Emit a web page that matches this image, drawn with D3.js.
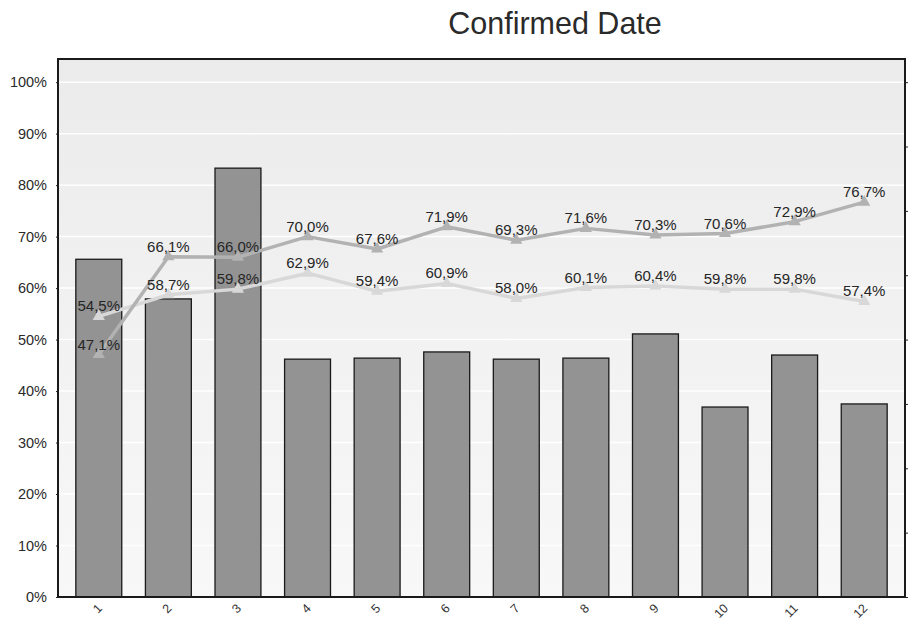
<!DOCTYPE html>
<html lang="en">
<head>
<meta charset="utf-8">
<script src="https://d3js.org/d3.v7.min.js"></script>
<style>
  * { margin: 0; padding: 0; }
  body { background: #fff; width: 911px; height: 622px; overflow: hidden; }
  svg { display: block; font-family: Arial, "Liberation Sans", sans-serif; }
</style>
</head>
<body>
<script>
// data
const months = ['1','2','3','4','5','6','7','8','9','10','11','12'];
const barValues = [65.6, 57.9, 83.3, 46.2, 46.4, 47.6, 46.2, 46.4, 51.1, 36.9, 47.0, 37.5];
const upperLine = [47.1, 66.1, 66.0, 70.0, 67.6, 71.9, 69.3, 71.6, 70.3, 70.6, 72.9, 76.7];
const lowerLine = [54.5, 58.7, 59.8, 62.9, 59.4, 60.9, 58.0, 60.1, 60.4, 59.8, 59.8, 57.4];
const yTicks = [0, 10, 20, 30, 40, 50, 60, 70, 80, 90, 100];
const title = 'Confirmed Date';

const W = 911, H = 622;
const box = {left: 58, right: 905, top: 59, bottom: 597};

const svg = d3.select('body').append('svg').attr('width', W).attr('height', H);

const x = d3.scaleBand().domain(months).range([64, 899]).paddingInner(0.34).paddingOuter(0.17);
const y = d3.scaleLinear().domain([0, 104.5]).range([box.bottom, box.top]);
const yRight = d3.scaleLinear().domain([0, 8]).range([y(0), y(100)]);

const loc = d3.formatLocale({decimal: ',', thousands: '.', grouping: [3], currency: ['', '']});
const fmt = v => loc.format('.1f')(v) + '%';

// plot background gradient
const defs = svg.append('defs');
const grad = defs.append('linearGradient').attr('id', 'bg').attr('x1', 0).attr('y1', 0).attr('x2', 0).attr('y2', 1);
grad.append('stop').attr('offset', '0%').attr('stop-color', '#ebebeb');
grad.append('stop').attr('offset', '100%').attr('stop-color', '#f8f8f8');

svg.append('rect')
  .attr('x', box.left).attr('y', box.top)
  .attr('width', box.right - box.left).attr('height', box.bottom - box.top)
  .attr('fill', 'url(#bg)');

// gridlines
svg.append('g').selectAll('line').data(yTicks.slice(1)).join('line')
  .attr('x1', box.left).attr('x2', box.right)
  .attr('y1', d => y(d)).attr('y2', d => y(d))
  .attr('stroke', '#fff').attr('stroke-width', 1.5);

// bars
svg.append('g').selectAll('rect').data(barValues).join('rect')
  .attr('x', (d, i) => x(months[i]))
  .attr('y', d => y(d))
  .attr('width', x.bandwidth())
  .attr('height', d => y(0) - y(d))
  .attr('fill', '#939393')
  .attr('stroke', '#1a1a1a').attr('stroke-width', 1.3);

// lines
const cx = i => x(months[i]) + x.bandwidth() / 2;
const line = d3.line().x((d, i) => cx(i)).y(d => y(d));
const tri = d3.symbol().type(d3.symbolTriangle).size(65);

const series = [
  {vals: lowerLine, color: '#d8d8d8'},
  {vals: upperLine, color: '#b2b2b2'}
];
series.forEach(s => {
  svg.append('path').datum(s.vals)
    .attr('d', line)
    .attr('fill', 'none')
    .attr('stroke', s.color).attr('stroke-width', 3.5)
    .attr('stroke-linejoin', 'round');
  svg.append('g').selectAll('path').data(s.vals).join('path')
    .attr('d', tri)
    .attr('transform', (d, i) => `translate(${cx(i)},${y(d)})`)
    .attr('fill', s.color);
});
series.forEach(s => {
  svg.append('g').selectAll('text').data(s.vals).join('text')
    .attr('x', (d, i) => cx(i))
    .attr('y', d => y(d) - 5)
    .attr('text-anchor', 'middle')
    .attr('font-size', 15)
    .attr('fill', '#262626')
    .text(d => fmt(d));
});

// frame
svg.append('rect')
  .attr('x', box.left).attr('y', box.top)
  .attr('width', box.right - box.left).attr('height', box.bottom - box.top)
  .attr('fill', 'none').attr('stroke', '#1a1a1a').attr('stroke-width', 2);

// left axis
const yAxis = svg.append('g')
  .attr('transform', `translate(${box.left},0)`)
  .call(d3.axisLeft(y).tickValues(yTicks).tickSize(2).tickPadding(9).tickFormat(d => d + '%'));
yAxis.select('.domain').remove();
yAxis.selectAll('text').attr('font-size', 14.5).attr('fill', '#2a2a2a');
yAxis.selectAll('line').attr('stroke', '#222');

// right axis (ticks only)
const rAxis = svg.append('g')
  .attr('transform', `translate(${box.right},0)`)
  .call(d3.axisRight(yRight).ticks(8).tickSize(3).tickFormat(''));
rAxis.select('.domain').remove();
rAxis.selectAll('line').attr('stroke', '#222');

// bottom axis
const xAxis = svg.append('g')
  .attr('transform', `translate(0,${box.bottom})`)
  .call(d3.axisBottom(x).tickSize(0).tickPadding(0));
xAxis.select('.domain').remove();
xAxis.selectAll('text')
  .attr('font-size', 12.5).attr('fill', '#333')
  .attr('text-anchor', 'end')
  .attr('dy', 0).attr('y', 0)
  .attr('transform', 'translate(4,12) rotate(-45)');

// title
svg.append('text')
  .attr('x', 555).attr('y', 34)
  .attr('text-anchor', 'middle')
  .attr('font-size', 30.5)
  .attr('fill', '#2a2a2a')
  .text(title);
</script>
</body>
</html>
